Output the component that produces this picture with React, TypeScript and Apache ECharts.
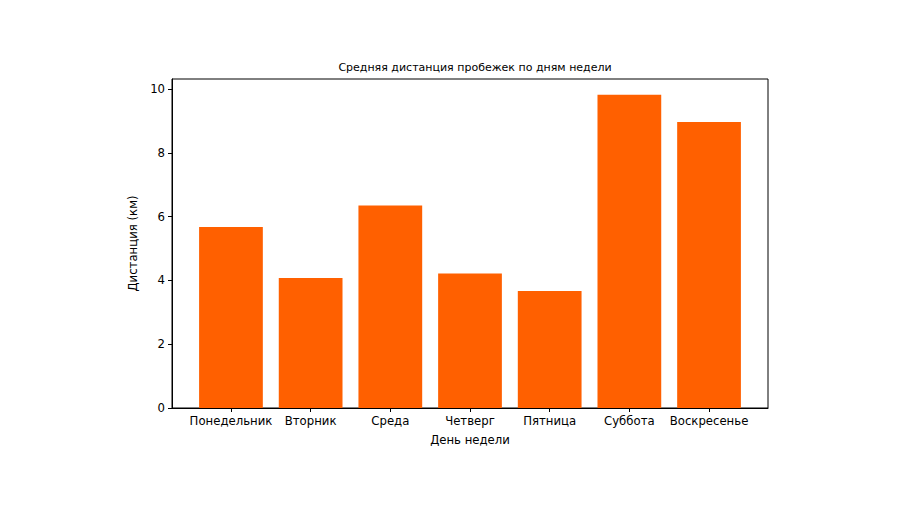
import React, { useEffect, useRef } from "react";
import * as echarts from "echarts";

const days = ["Понедельник", "Вторник", "Среда", "Четверг", "Пятница", "Суббота", "Воскресенье"];
const distances = [5.68, 4.08, 6.35, 4.22, 3.67, 9.83, 8.97];
const yTicks = [0, 2, 4, 6, 8, 10];
const title = "Средняя дистанция пробежек по дням недели";
const xName = "День недели";
const yName = "Дистанция (км)";

export default function App() {
  const ref = useRef<HTMLDivElement>(null);
  useEffect(() => {
    if (!ref.current) return;
    const chart = echarts.init(ref.current, null, { renderer: "svg" });
    const gridLeft = 172;
    const gridRight = 132;
    const gridW = 900 - gridLeft - gridRight;
    const n = days.length;
    const xMin = -0.4 - 0.05 * (n - 1 + 0.8);
    const xMax = n - 1 + 0.4 + 0.05 * (n - 1 + 0.8);
    const barW = (0.8 * gridW) / (xMax - xMin);
    const ymax = Math.max(...distances) * 1.05;
    const font = "DejaVu Sans";
    chart.setOption({
      animation: false,
      title: {
        text: title,
        left: gridLeft + gridW / 2,
        textAlign: "center",
        top: 57,
        textStyle: { fontFamily: font, fontSize: 11, fontWeight: "normal", color: "#000" },
      },
      grid: {
        left: gridLeft,
        right: gridRight,
        top: 79,
        bottom: 98,
        show: true,
        borderColor: "#000",
        borderWidth: 1,
        backgroundColor: "transparent",
      },
      xAxis: {
        type: "value",
        min: xMin,
        max: xMax,
        name: xName,
        nameLocation: "middle",
        nameGap: 26,
        nameTextStyle: { fontFamily: font, fontSize: 11.7, color: "#000" },
        splitLine: { show: false },
        axisLine: { show: true, onZero: false, lineStyle: { color: "#000", width: 1 } },
        axisTick: { show: true, length: 4, lineStyle: { color: "#000" }, customValues: days.map((_, i) => i) },
        axisLabel: {
          customValues: days.map((_, i) => i),
          formatter: (v: number) => days[Math.round(v)] ?? "",
          fontFamily: font,
          fontSize: 11.7,
          color: "#000",
          margin: 7,
        },
      },
      yAxis: {
        type: "value",
        min: 0,
        max: ymax,
        name: yName,
        nameLocation: "middle",
        nameGap: 30,
        nameRotate: 90,
        nameTextStyle: { fontFamily: font, fontSize: 11.7, color: "#000" },
        splitLine: { show: false },
        axisLine: { show: true, onZero: false, lineStyle: { color: "#000", width: 1 } },
        axisTick: { show: true, length: 4, lineStyle: { color: "#000" }, customValues: yTicks },
        axisLabel: {
          customValues: yTicks,
          fontFamily: font,
          fontSize: 11.7,
          color: "#000",
          margin: 7,
        },
      },
      series: [
        {
          type: "bar",
          data: distances.map((v, i) => [i, v]),
          barWidth: barW,
          itemStyle: { color: "#ff6000" },
        },
      ],
    });
    return () => chart.dispose();
  }, []);
  return <div ref={ref} style={{ width: 900, height: 506, margin: -8 }} />;
}
